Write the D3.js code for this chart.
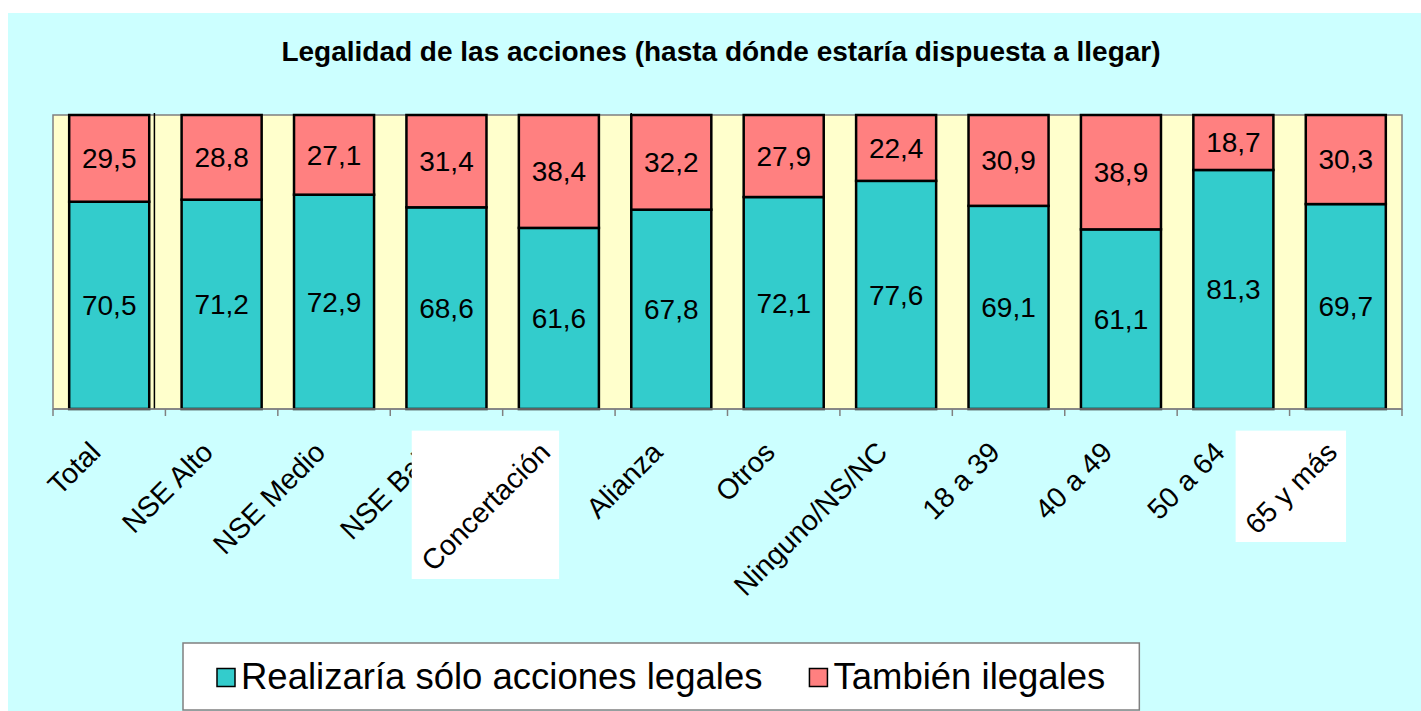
<!DOCTYPE html>
<html>
<head>
<meta charset="utf-8">
<script src="https://cdn.jsdelivr.net/npm/d3@7"></script>
<style>
  html, body { margin: 0; padding: 0; background: #ffffff; }
  svg { display: block; }
  text { font-family: "Liberation Sans", Arial, sans-serif; }
</style>
</head>
<body>
<svg id="chart" width="1421" height="711"></svg>
<script>
// Categories and series values (percentages)
const categories = ["Total", "NSE Alto", "NSE Medio", "NSE Bajo", "Concertación", "Alianza",
  "Otros", "Ninguno/NS/NC", "18 a 39", "40 a 49", "50 a 64", "65 y más"];
const soloLegales = [70.5, 71.2, 72.9, 68.6, 61.6, 67.8, 72.1, 77.6, 69.1, 61.1, 81.3, 69.7];
const tambienIlegales = [29.5, 28.8, 27.1, 31.4, 38.4, 32.2, 27.9, 22.4, 30.9, 38.9, 18.7, 30.3];
const seriesNames = ["Realizaría sólo acciones legales", "También ilegales"];
const seriesColors = ["#33CCCC", "#FF8080"];
const titleText = "Legalidad de las acciones (hasta dónde estaría dispuesta a llegar)";
// Group separators drawn after these categories
const separatorsAfter = ["Total", "Concertación"];
// Axis labels shown on a white plate
const platedLabels = ["Concertación", "65 y más"];

const svg = d3.select("#chart");
const W = 1421, H = 711;
const plot = { left: 53, right: 1402, top: 115, bottom: 409 };

const locale = d3.formatLocale({ decimal: ",", thousands: ".", grouping: [3], currency: ["", ""] });
const fmt = locale.format(".1f");

const rows = categories.map((c, i) => ({ cat: c, legal: soloLegales[i], ilegal: tambienIlegales[i] }));
const stack = d3.stack().keys(["legal", "ilegal"]);
const layers = stack(rows);

const x = d3.scaleBand().domain(categories).range([plot.left, plot.right])
  .paddingInner(0.288).paddingOuter(0.144);
const y = d3.scaleLinear().domain([0, 100]).range([plot.bottom, plot.top]);
const step = x.step();

// Backgrounds
svg.append("rect").attr("x", 8).attr("y", 13).attr("width", W - 8).attr("height", H - 13)
  .attr("fill", "#CCFFFF");
svg.append("rect").attr("x", plot.left).attr("y", plot.top)
  .attr("width", plot.right - plot.left).attr("height", plot.bottom - plot.top)
  .attr("fill", "#FFFFCC").attr("stroke", "#808080").attr("stroke-width", 1.5);

// Title
svg.append("text").attr("x", 721).attr("y", 61).attr("text-anchor", "middle")
  .attr("font-size", 28).attr("font-weight", "bold").attr("fill", "#000")
  .text(titleText);

// Stacked bars
const layerG = svg.selectAll("g.layer").data(layers).join("g")
  .attr("class", "layer").attr("fill", (d, i) => seriesColors[i]);
layerG.selectAll("rect").data(d => d).join("rect")
  .attr("x", d => x(d.data.cat))
  .attr("y", d => y(d[1]))
  .attr("width", x.bandwidth())
  .attr("height", d => y(d[0]) - y(d[1]))
  .attr("stroke", "#000").attr("stroke-width", 2.5);

// Value labels
layers.forEach((layer, li) => {
  svg.append("g").selectAll("text").data(layer).join("text")
    .attr("x", d => x(d.data.cat) + x.bandwidth() / 2)
    .attr("y", d => (y(d[0]) + y(d[1])) / 2)
    .attr("dy", "0.35em")
    .attr("text-anchor", "middle")
    .attr("font-size", 28)
    .attr("fill", "#000")
    .text(d => fmt(d[1] - d[0]));
});

// Group separator lines
separatorsAfter.forEach(c => {
  const i = categories.indexOf(c);
  const barEnd = x(c) + x.bandwidth();
  const nextBar = x(categories[i + 1]);
  const sx = i === 0 ? barEnd + (nextBar - barEnd) * 0.16 : nextBar;
  svg.append("line").attr("x1", sx).attr("x2", sx)
    .attr("y1", plot.top - 2).attr("y2", plot.bottom)
    .attr("stroke", "#000").attr("stroke-width", 1.5);
});

// Category axis line and ticks at band boundaries
svg.append("line").attr("x1", plot.left).attr("x2", plot.right)
  .attr("y1", plot.bottom).attr("y2", plot.bottom)
  .attr("stroke", "#808080").attr("stroke-width", 1.5);
const bounds = d3.range(categories.length + 1).map(i => plot.left + i * step);
svg.append("g").selectAll("line").data(bounds).join("line")
  .attr("x1", d => d).attr("x2", d => d)
  .attr("y1", plot.bottom).attr("y2", plot.bottom + 7)
  .attr("stroke", "#808080").attr("stroke-width", 1.5);

// Rotated category labels
const labelG = svg.append("g");
const labels = labelG.selectAll("text").data(categories).join("text")
  .attr("transform", d => `translate(${x(d) + x.bandwidth() / 2 - 7},${plot.bottom + 45}) rotate(-45)`)
  .attr("text-anchor", "end")
  .attr("font-size", 28.5)
  .attr("fill", "#000")
  .text(d => d);

// White plates behind selected labels
labels.filter(d => platedLabels.includes(d)).each(function () {
  const b = this.getBoundingClientRect();
  labelG.insert("rect", () => this)
    .attr("x", b.left - 3).attr("y", b.top - 5)
    .attr("width", b.width + 6).attr("height", b.height + 7)
    .attr("fill", "#ffffff");
});
labels.filter(d => platedLabels.includes(d)).raise();

// Legend
const legend = svg.append("g");
const legBox = legend.append("rect")
  .attr("fill", "#ffffff").attr("stroke", "#808080").attr("stroke-width", 1.5);
const sw = 18, gapText = 6, gapItem = 47, padL = 34, padR = 34;
const legTop = 643, legBottom = 710, legMid = (legTop + legBottom) / 2;
let cx = 183 + padL;
seriesNames.forEach((name, i) => {
  legend.append("rect").attr("x", cx).attr("y", legMid - sw / 2 + 1)
    .attr("width", sw).attr("height", sw)
    .attr("fill", seriesColors[i]).attr("stroke", "#000").attr("stroke-width", 1.5);
  const t = legend.append("text").attr("x", cx + sw + gapText).attr("y", legMid)
    .attr("dy", "0.35em").attr("font-size", 36.5).attr("fill", "#000").text(name);
  cx += sw + gapText + t.node().getComputedTextLength() + (i < seriesNames.length - 1 ? gapItem : 0);
});
legBox.attr("x", 183).attr("y", legTop).attr("width", cx + padR - 183).attr("height", legBottom - legTop);
</script>
</body>
</html>
